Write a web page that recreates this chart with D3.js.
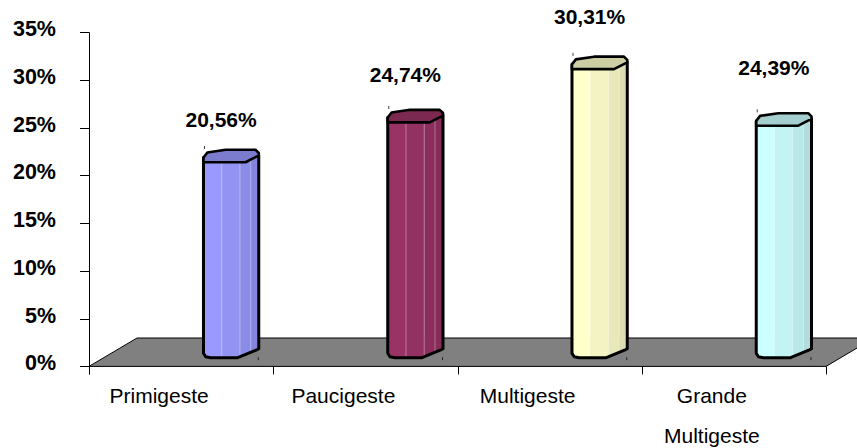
<!DOCTYPE html>
<html>
<head>
<meta charset="utf-8">
<script src="https://cdn.jsdelivr.net/npm/d3@7/dist/d3.min.js"></script>
<style>
  html, body { margin: 0; padding: 0; background: #fff; }
  svg { display: block; font-family: "Liberation Sans", Arial, sans-serif; }
</style>
</head>
<body>
<svg id="chart" width="857" height="448"></svg>
<script>
// Categories and their shares (percent)
const categories = ["Primigeste", "Paucigeste", "Multigeste", "Grande Multigeste"];
const values = [20.56, 24.74, 30.31, 24.39];
const yTicks = [0, 5, 10, 15, 20, 25, 30, 35];
const palette = ["#9999FF", "#993366", "#FFFFCC", "#CCFFFF"];

const W = 857, H = 448;
const svg = d3.select("#chart");

// Front plane of the 3D box
const left = 89, right = 826;
const y = d3.scaleLinear().domain([0, 35]).range([366.4, 32.3]);
const x = d3.scaleBand().domain(categories).range([left, right]);
const depth = { dx: 48, dy: -28.4 };      // floor depth vector
const barShiftX = 50;                     // bars sit mid-depth, pushed back and right
const barW = x.bandwidth() * 0.3;

const locale = d3.formatLocale({ decimal: ",", thousands: ".", grouping: [3], currency: ["", ""] });
const fmtVal = v => locale.format(".2f")(v) + "%";

// Floor
const y0 = y(0);
const floor = [
  [left, y0], [right, y0],
  [right + depth.dx, y0 + depth.dy], [left + depth.dx, y0 + depth.dy]
];
svg.append("path")
  .attr("d", d3.line()(floor) + "Z")
  .attr("fill", "#808080")
  .attr("stroke", "#000")
  .attr("stroke-width", 1);

// Value axis
const yAxis = svg.append("g");
yAxis.append("line")
  .attr("x1", left + 0.5).attr("x2", left + 0.5)
  .attr("y1", y(35)).attr("y2", y0 + 8)
  .attr("stroke", "#000").attr("stroke-width", 1);
yAxis.selectAll("line.tick").data(yTicks).join("line")
  .attr("class", "tick")
  .attr("x1", left - 9).attr("x2", left)
  .attr("y1", d => Math.round(y(d)) + 0.5).attr("y2", d => Math.round(y(d)) + 0.5)
  .attr("stroke", "#000").attr("stroke-width", 1);
yAxis.selectAll("text").data(yTicks).join("text")
  .attr("x", 56)
  .attr("y", d => y(d) + 4)
  .attr("text-anchor", "end")
  .attr("font-size", 21.5)
  .attr("font-weight", "bold")
  .attr("fill", "#000")
  .text(d => d + "%");

// Category axis ticks along the front floor edge
const edges = categories.map(c => x(c)).concat([right]);
svg.append("g").selectAll("line").data(edges).join("line")
  .attr("x1", d => Math.round(d) + 0.5).attr("x2", d => Math.round(d) + 0.5)
  .attr("y1", y0).attr("y2", y0 + 8)
  .attr("stroke", "#000").attr("stroke-width", 1);

// Category labels, wrapped when too wide
const labelShift = -22;
const catG = svg.append("g")
  .attr("font-size", 21)
  .attr("fill", "#000")
  .attr("text-anchor", "middle");
categories.forEach(c => {
  const words = c.split(" ");
  const lines = words.length > 1 && c.length > 12 ? words : [c];
  const t = catG.append("text")
    .attr("x", x(c) + x.bandwidth() / 2 + labelShift)
    .attr("y", 403);
  lines.forEach((ln, i) => {
    t.append("tspan")
      .attr("x", x(c) + x.bandwidth() / 2 + labelShift)
      .attr("dy", i === 0 ? 0 : 40)
      .text(ln);
  });
});

// Cylinder-like columns
const defs = svg.append("defs");
const line = d3.line();
const baseY = y0 + depth.dy / 2;
const stripeEdges = [0, 0.33, 0.66, 0.855, 1];
const stripeDark = [0, 0.12, 0.26, 0.4];

const firstCx = x(categories[0]) + x.bandwidth() / 2 + barShiftX;

categories.forEach((c, i) => {
  const cx = x(c) + x.bandwidth() / 2 + barShiftX;
  const L = cx - barW / 2, R = cx + barW / 2, w = barW;
  const ty = y(values[i]) + depth.dy / 2;
  const by = baseY;
  const col = d3.color(palette[i]);

  const body = [
    [L, ty + 1.5], [L, by + 1], [L + 0.04 * w, by + 4.5], [L + 0.13 * w, by + 5.5],
    [L + 0.62 * w, by + 5.5], [L + 0.95 * w, by - 2], [R, by - 3.5], [R, ty - 0.5]
  ];
  const top = [
    [L, ty + 1.5], [L + 0.07 * w, ty - 3.5], [L + 0.4 * w, ty - 6.2], [L + 0.94 * w, ty - 6.2],
    [R, ty - 3], [R, ty - 0.5], [L + 0.76 * w, ty + 6.3], [L, ty + 6.3]
  ];

  const g = svg.append("g");
  const clipId = "clip" + i;
  defs.append("clipPath").attr("id", clipId)
    .append("path").attr("d", line(body) + "Z");

  const sg = g.append("g").attr("clip-path", `url(#${clipId})`);
  stripeDark.forEach((k, j) => {
    sg.append("rect")
      .attr("x", L + stripeEdges[j] * w)
      .attr("y", ty - 8)
      .attr("width", (stripeEdges[j + 1] - stripeEdges[j]) * w + 0.5)
      .attr("height", by - ty + 16)
      .attr("fill", col.darker(k).formatHex());
  });
  stripeEdges.slice(1, 4).forEach(f => {
    sg.append("line")
      .attr("x1", L + f * w).attr("x2", L + f * w)
      .attr("y1", ty - 8).attr("y2", by + 8)
      .attr("stroke", "#fff").attr("stroke-opacity", 0.35).attr("stroke-width", 1);
  });

  g.append("path")
    .attr("d", line(body) + "Z")
    .attr("fill", "none")
    .attr("stroke", "#000").attr("stroke-width", 3)
    .attr("stroke-linejoin", "round");

  g.append("path")
    .attr("d", line(top) + "Z")
    .attr("fill", col.darker(0.6).formatHex())
    .attr("stroke", "#000").attr("stroke-width", 2.6)
    .attr("stroke-linejoin", "round");

  // small marker ticks at the column corners
  g.append("line")
    .attr("x1", L + 1).attr("x2", L + 1).attr("y1", ty - 10).attr("y2", ty - 7)
    .attr("stroke", "#444").attr("stroke-width", 1);
  g.append("line")
    .attr("x1", R - 0.5).attr("x2", R - 0.5).attr("y1", by + 5).attr("y2", by + 8)
    .attr("stroke", "#222").attr("stroke-width", 1);

  // value label
  const lift = 29 + (cx - firstCx) * 0.027;
  svg.append("text")
    .attr("x", cx - 10)
    .attr("y", ty - lift)
    .attr("text-anchor", "middle")
    .attr("font-size", 21)
    .attr("font-weight", "bold")
    .attr("fill", "#000")
    .text(fmtVal(values[i]));
});
</script>
</body>
</html>
